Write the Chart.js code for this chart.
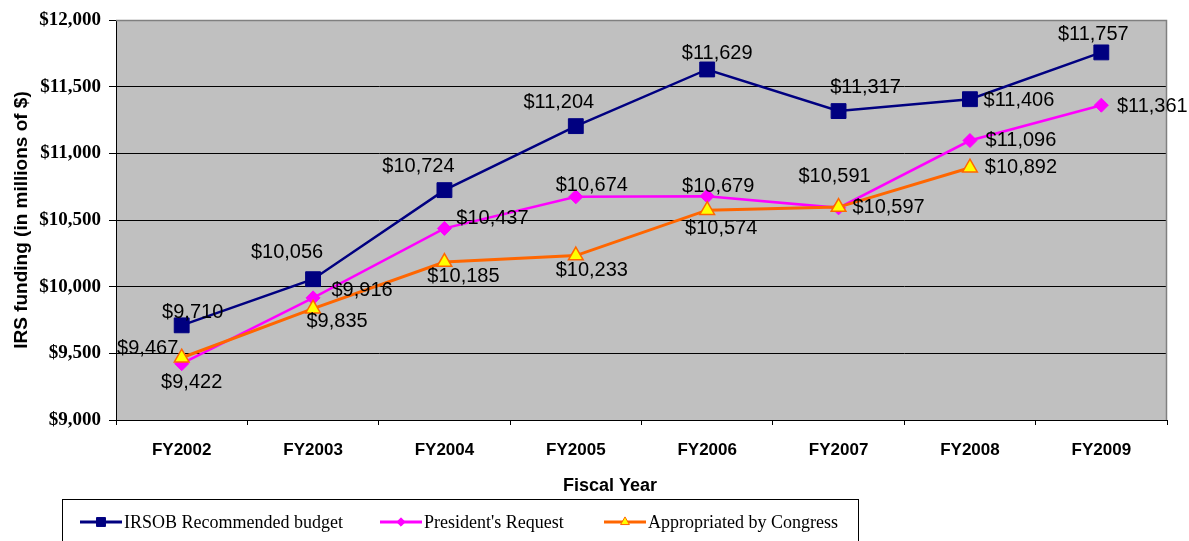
<!DOCTYPE html>
<html>
<head>
<meta charset="utf-8">
<script src="https://cdn.jsdelivr.net/npm/chart.js@4.4.1/dist/chart.umd.min.js"></script>
<style>
  html, body { margin: 0; padding: 0; background: #fff; }
  #wrap { width: 1189px; height: 541px; position: relative; }
</style>
</head>
<body>
<div id="wrap"><canvas id="chart"></canvas></div>
<script>
const years          = ['FY2002', 'FY2003', 'FY2004', 'FY2005', 'FY2006', 'FY2007', 'FY2008', 'FY2009'];
const irsobBudget    = [9710, 10056, 10724, 11204, 11629, 11317, 11406, 11757];
const presRequest    = [9422, 9916, 10437, 10674, 10679, 10591, 11096, 11361];
const congressApprop = [9467, 9835, 10185, 10233, 10574, 10597, 10892, null];
const yMin = 9000, yMax = 12000, yStep = 500;

// where each value label sits relative to its point (dx, dy), as in the original
const labelOffsets = [
  [[11, -13], [-26, -27], [-26, -24], [-17, -24], [10, -16], [27, -24], [49, 1], [-8, -18]],
  [[10, 19], [49, -7], [48, -10], [16, -11], [11, -10], [-4, -31], [51, 0], [51, 1]],
  [[-34, -9], [24, 13], [19, 14], [16, 15], [14, 18], [50, 0], [51, 0], null],
];

const money = v => '$' + v.toLocaleString('en-US');

const plotFrame = {
  id: 'plotFrame',
  beforeDraw(chart) {
    const { ctx, chartArea: a } = chart;
    ctx.save();
    ctx.fillStyle = '#c0c0c0';
    ctx.fillRect(a.left, a.top, a.right - a.left, a.bottom - a.top);
    ctx.restore();
  },
  beforeDatasetsDraw(chart) {
    const { ctx, chartArea: a } = chart;
    ctx.save();
    ctx.strokeStyle = '#808080';
    ctx.lineWidth = 1.5;
    ctx.beginPath();
    ctx.moveTo(a.left, a.top + 0.5);
    ctx.lineTo(a.right - 0.5, a.top + 0.5);
    ctx.lineTo(a.right - 0.5, a.bottom);
    ctx.stroke();
    ctx.restore();
  }
};

const valueLabels = {
  id: 'valueLabels',
  afterDatasetsDraw(chart) {
    const { ctx } = chart;
    ctx.save();
    ctx.font = '20px "Liberation Sans", Arial, sans-serif';
    ctx.fillStyle = '#000';
    ctx.textAlign = 'center';
    ctx.textBaseline = 'middle';
    chart.data.datasets.forEach((ds, i) => {
      const meta = chart.getDatasetMeta(i);
      meta.data.forEach((pt, j) => {
        const v = ds.data[j];
        const off = labelOffsets[i][j];
        if (v == null || !off) return;
        ctx.fillText(money(v), pt.x + off[0], pt.y + off[1]);
      });
    });
    ctx.restore();
  }
};

// x-axis title sits left of centre in the original, and the legend is a boxed row
const boxLegend = {
  id: 'boxLegend',
  afterDraw(chart) {
    const { ctx } = chart;
    ctx.save();
    ctx.fillStyle = '#000';
    ctx.textAlign = 'center';
    ctx.textBaseline = 'middle';
    ctx.font = 'bold 18px "Liberation Sans", Arial, sans-serif';
    ctx.fillText('Fiscal Year', 610, 486);

    const slots = [80, 380, 604];
    ctx.textAlign = 'left';
    ctx.strokeStyle = '#000';
    ctx.lineWidth = 1;
    ctx.strokeRect(62.5, 499.5, 796, 60);
    ctx.font = '18px "Liberation Serif", "Times New Roman", serif';
    const y = 522;
    chart.data.datasets.forEach((ds, i) => {
      const x0 = slots[i];
      ctx.strokeStyle = ds.borderColor;
      ctx.lineWidth = 3;
      ctx.beginPath();
      ctx.moveTo(x0, y);
      ctx.lineTo(x0 + 42, y);
      ctx.stroke();
      ctx.fillStyle = ds.pointBackgroundColor;
      ctx.strokeStyle = ds.pointBorderColor;
      ctx.lineWidth = 1;
      Chart.helpers.drawPoint(ctx, {
        pointStyle: ds.pointStyle, radius: ds.pointRadius * 0.6, borderWidth: 1
      }, x0 + 21, y);
      ctx.fillStyle = '#000';
      ctx.fillText(ds.label, x0 + 44, y + 1);
    });
    ctx.restore();
  }
};

new Chart(document.getElementById('chart'), {
  type: 'line',
  data: {
    labels: years,
    datasets: [
      {
        label: 'IRSOB Recommended budget', data: irsobBudget, order: 2,
        borderColor: '#000080', borderWidth: 2.5,
        pointStyle: 'rect', pointRadius: 10.5,
        pointBackgroundColor: '#000080', pointBorderColor: '#000080', pointBorderWidth: 1,
      },
      {
        label: "President's Request", data: presRequest, order: 1,
        borderColor: '#ff00ff', borderWidth: 2.5,
        pointStyle: 'rectRot', pointRadius: 7,
        pointBackgroundColor: '#ff00ff', pointBorderColor: '#ff00ff', pointBorderWidth: 1,
      },
      {
        label: 'Appropriated by Congress', data: congressApprop, order: 0,
        borderColor: '#ff6600', borderWidth: 3,
        pointStyle: 'triangle', pointRadius: 8.5,
        pointBackgroundColor: '#ffff00', pointBorderColor: '#ff6600', pointBorderWidth: 1.5,
      },
    ],
  },
  options: {
    responsive: true,
    maintainAspectRatio: false,
    animation: false,
    layout: { padding: { top: 20, right: 22, left: 0, bottom: 0 } },
    plugins: { legend: { display: false }, tooltip: { enabled: false } },
    elements: { line: { tension: 0 } },
    scales: {
      x: {
        offset: true,
        afterFit: s => { s.height = 121; },
        grid: { offset: true, drawOnChartArea: false, tickLength: 5, color: '#000', tickColor: '#000' },
        border: { color: '#000', width: 1 },
        ticks: { color: '#000', padding: 15, font: { family: '"Liberation Sans", Arial, sans-serif', size: 17, weight: 'bold' } },
      },
      y: {
        min: yMin, max: yMax,
        afterFit: s => { s.width = 116; },
        grid: {
          color: c => (c.tick && c.tick.value === yMax ? 'rgba(0,0,0,0)' : '#000'),
          tickLength: 7, tickColor: '#000', lineWidth: 1,
        },
        border: { color: '#000', width: 1 },
        ticks: {
          stepSize: yStep, color: '#000', padding: 8,
          font: { family: '"Liberation Serif", "Times New Roman", serif', size: 19, weight: 'bold' },
          callback: v => money(v),
        },
        title: {
          display: true, text: 'IRS funding (in millions of $)', color: '#000',
          font: { family: '"Liberation Sans", Arial, sans-serif', size: 19, weight: 'bold' },
          padding: { top: 10, bottom: 4 },
        },
      },
    },
  },
  plugins: [plotFrame, valueLabels, boxLegend],
});
</script>
</body>
</html>
